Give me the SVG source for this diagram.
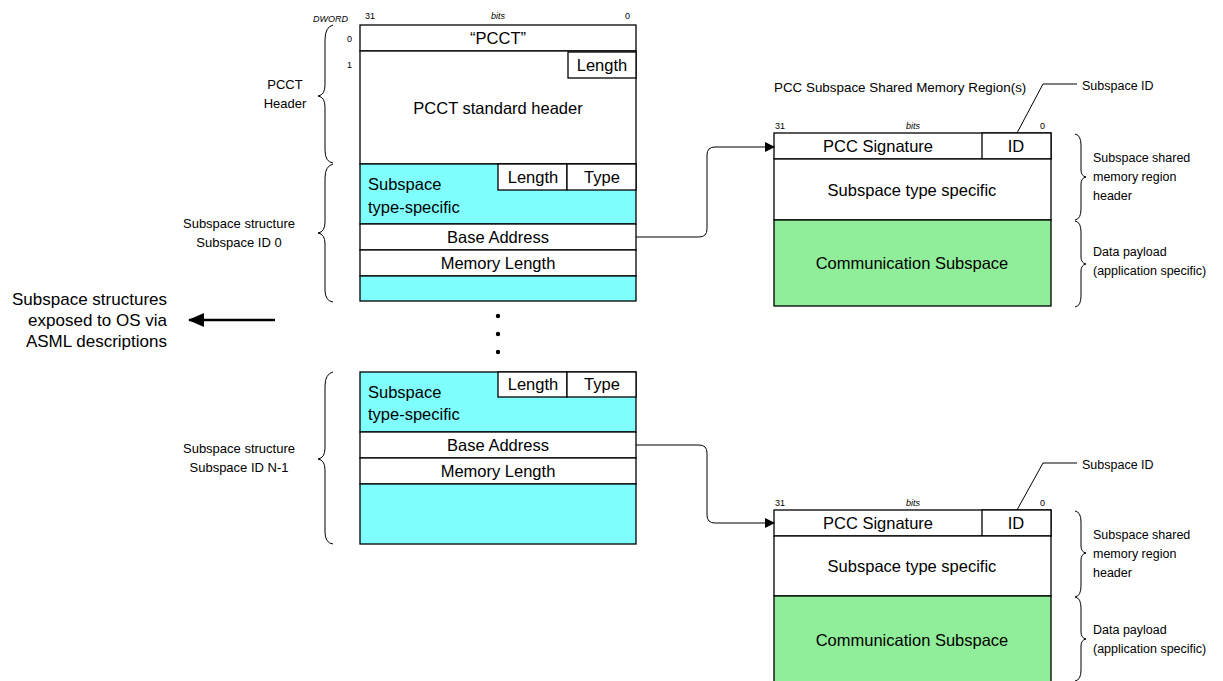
<svg xmlns="http://www.w3.org/2000/svg" width="1223" height="681" viewBox="0 0 1223 681">
<defs>
<style>
.t{font-family:"Liberation Sans",Arial,sans-serif;fill:#000}
.m{font-size:16.5px}
.s{font-size:13px}
.s2{font-size:12.5px}
.x{font-size:9px}
.i{font-style:italic}
.c{text-anchor:middle}
.r{text-anchor:end}
.box{stroke:#000;stroke-width:1.3}
.w{fill:#fff}
.cy{fill:#80FFFF}
.gr{fill:#90EE9A}
.br{fill:none;stroke:#000;stroke-width:1}
.ln{fill:none;stroke:#000;stroke-width:1}
</style>
<marker id="ah" markerWidth="10" markerHeight="10" refX="9" refY="5" orient="auto" markerUnits="userSpaceOnUse">
<path d="M0,0 L10,5 L0,10 z" fill="#000"/>
</marker>
<marker id="ah2" markerWidth="16" markerHeight="14" refX="15" refY="7" orient="auto" markerUnits="userSpaceOnUse">
<path d="M0,0 L16,7 L0,14 z" fill="#000"/>
</marker>
</defs>
<rect width="1223" height="681" fill="#fff"/>

<g id="pcct-header">
<text class="t x i" x="313" y="22">DWORD</text>
<text class="t x" x="365" y="19">31</text>
<text class="t x i c" x="498" y="19">bits</text>
<text class="t x" x="625" y="19">0</text>
<text class="t x" x="347" y="42">0</text>
<text class="t x" x="347" y="68">1</text>
<rect class="box w" x="360" y="25" width="276" height="26"/>
<rect class="box w" x="360" y="51" width="276" height="113"/>
<rect class="box w" x="568" y="52" width="68" height="26"/>
<text class="t m c" x="498" y="44">“PCCT”</text>
<text class="t m c" x="602" y="71">Length</text>
<text class="t m c" x="498" y="114">PCCT standard header</text>
<path class="br" d="M333,25 Q325,27 325,40 V85 Q325,95 318,96 Q325,97 325,107 V150 Q325,162 333,163"/>
<text class="t s c" x="285" y="89">PCCT</text>
<text class="t s c" x="285" y="108">Header</text>
</g>

<g id="subspace-0">
<rect class="box cy" x="360" y="164" width="276" height="60"/>
<rect class="box w" x="498" y="164" width="69" height="26"/>
<rect class="box w" x="567" y="164" width="69" height="26"/>
<rect class="box w" x="360" y="224" width="276" height="26"/>
<rect class="box w" x="360" y="250" width="276" height="26"/>
<rect class="box cy" x="360" y="276" width="276" height="25"/>
<text class="t m" x="368" y="190">Subspace</text>
<text class="t m" x="368" y="213">type-specific</text>
<text class="t m c" x="533" y="183">Length</text>
<text class="t m c" x="602" y="183">Type</text>
<text class="t m c" x="498" y="243">Base Address</text>
<text class="t m c" x="498" y="269">Memory Length</text>
<path class="br" d="M333,164 Q325,166 325,178 V222 Q325,232 318,233 Q325,234 325,244 V290 Q325,301 333,302"/>
<text class="t s c" x="239" y="228">Subspace structure</text>
<text class="t s c" x="239" y="247">Subspace ID 0</text>
</g>

<g id="ellipsis">
<circle cx="498" cy="316" r="2.2" fill="#000"/>
<circle cx="498" cy="334" r="2.2" fill="#000"/>
<circle cx="498" cy="352" r="2.2" fill="#000"/>
</g>

<g id="subspace-n1">
<rect class="box cy" x="360" y="372" width="276" height="60"/>
<rect class="box w" x="498" y="372" width="69" height="25"/>
<rect class="box w" x="567" y="372" width="69" height="25"/>
<rect class="box w" x="360" y="432" width="276" height="26"/>
<rect class="box w" x="360" y="458" width="276" height="26"/>
<rect class="box cy" x="360" y="484" width="276" height="60"/>
<text class="t m" x="368" y="398">Subspace</text>
<text class="t m" x="368" y="420">type-specific</text>
<text class="t m c" x="533" y="390">Length</text>
<text class="t m c" x="602" y="390">Type</text>
<text class="t m c" x="498" y="451">Base Address</text>
<text class="t m c" x="498" y="477">Memory Length</text>
<path class="br" d="M333,372 Q325,374 325,386 V448 Q325,458 318,459 Q325,460 325,470 V532 Q325,543 333,544"/>
<text class="t s c" x="239" y="453">Subspace structure</text>
<text class="t s c" x="239" y="472">Subspace ID N-1</text>
</g>

<g id="os-note">
<text class="t r" style="font-size:17px" x="167" y="305">Subspace structures</text>
<text class="t r" style="font-size:17px" x="167" y="326">exposed to OS via</text>
<text class="t r" style="font-size:17px" x="167" y="347">ASML descriptions</text>
</g>

<g id="region-title">
<text class="t" style="font-size:13.4px" x="774" y="92">PCC Subspace Shared Memory Region(s)</text>
</g>

<g id="region-0">
<text class="t x" x="775" y="129">31</text>
<text class="t x i c" x="913" y="129">bits</text>
<text class="t x" x="1040" y="129">0</text>
<rect class="box w" x="774" y="133" width="277" height="26"/>
<rect class="box w" x="982" y="133" width="69" height="26"/>
<rect class="box w" x="774" y="159" width="277" height="61"/>
<rect class="box gr" x="774" y="220" width="277" height="86"/>
<text class="t m c" x="878" y="152">PCC Signature</text>
<text class="t m c" x="1016" y="152">ID</text>
<text class="t m c" x="912" y="196">Subspace type specific</text>
<text class="t m c" x="912" y="269">Communication Subspace</text>
<path class="ln" d="M1017,133 L1043,84 H1077"/>
<text class="t s2" x="1082" y="90">Subspace ID</text>
<path class="br" d="M1075,134 Q1081,135 1081,145 V170 Q1081,176 1086,177 Q1081,178 1081,184 V209 Q1081,219 1075,220"/>
<path class="br" d="M1075,221 Q1081,222 1081,232 V257 Q1081,263 1086,264 Q1081,265 1081,271 V296 Q1081,306 1075,307"/>
<text class="t s2" x="1093" y="162">Subspace shared</text>
<text class="t s2" x="1093" y="181">memory region</text>
<text class="t s2" x="1093" y="200">header</text>
<text class="t s2" x="1093" y="256">Data payload</text>
<text class="t s2" x="1093" y="275">(application specific)</text>
</g>

<g id="region-n1">
<text class="t x" x="775" y="506">31</text>
<text class="t x i c" x="913" y="506">bits</text>
<text class="t x" x="1040" y="506">0</text>
<rect class="box w" x="774" y="510" width="277" height="26"/>
<rect class="box w" x="982" y="510" width="69" height="26"/>
<rect class="box w" x="774" y="536" width="277" height="60"/>
<rect class="box gr" x="774" y="596" width="277" height="90"/>
<text class="t m c" x="878" y="529">PCC Signature</text>
<text class="t m c" x="1016" y="529">ID</text>
<text class="t m c" x="912" y="572">Subspace type specific</text>
<text class="t m c" x="912" y="646">Communication Subspace</text>
<path class="ln" d="M1017,510 L1043,463 H1077"/>
<text class="t s2" x="1082" y="469">Subspace ID</text>
<path class="br" d="M1075,511 Q1081,512 1081,522 V546 Q1081,552 1086,553 Q1081,554 1081,560 V586 Q1081,596 1075,597"/>
<path class="br" d="M1075,597 Q1081,598 1081,608 V632 Q1081,638 1086,639 Q1081,640 1081,646 V670 Q1081,680 1075,681"/>
<text class="t s2" x="1093" y="539">Subspace shared</text>
<text class="t s2" x="1093" y="558">memory region</text>
<text class="t s2" x="1093" y="577">header</text>
<text class="t s2" x="1093" y="634">Data payload</text>
<text class="t s2" x="1093" y="653">(application specific)</text>
</g>

<g id="connectors">
<path class="ln" d="M636,237 H699 Q707,237 707,229 V155 Q707,147 715,147 H774" marker-end="url(#ah)"/>
<path class="ln" d="M636,445 H699 Q707,445 707,453 V515 Q707,523 715,523 H774" marker-end="url(#ah)"/>
<path d="M275,320 H189" fill="none" stroke="#000" stroke-width="2.5" marker-end="url(#ah2)"/>
</g>
</svg>
